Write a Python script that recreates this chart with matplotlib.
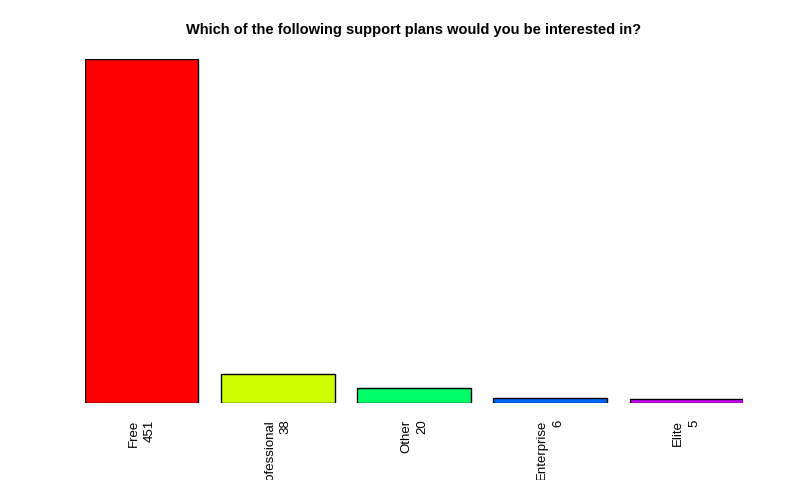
import matplotlib.pyplot as plt

plt.rcParams['font.family'] = ['Liberation Sans', 'DejaVu Sans']

plans = ['Free', 'Professional', 'Other', 'Enterprise', 'Elite']
counts = [451, 38, 20, 6, 5]
colors = ['#FF0000', '#CCFF00', '#00FF66', '#0066FF', '#CC00FF']

fig = plt.figure(figsize=(8, 4.8), dpi=100)
# axes placed in pixels: x 85..743, y 59..403 (from top)
ax = fig.add_axes([85 / 800, 77 / 480, 658 / 800, 344 / 480])

lefts = [0.2 + 1.2 * i for i in range(len(plans))]
centers = [l + 0.5 for l in lefts]
ax.bar(centers, counts, width=1.0, color=colors, edgecolor='black', linewidth=1)

ax.set_xlim(0.2, 6.0)
ax.set_ylim(0, max(counts))
ax.axis('off')

# rotated labels, cut at the bottom edge like the original (R las=2)
for c, name, n in zip(centers, plans, counts):
    ax.annotate(f'{name}\n{n}', xy=(c, 0), xycoords=('data', 'axes fraction'),
                xytext=(0, -12), textcoords='offset points', rotation=90,
                ha='center', va='top', multialignment='right', fontsize=9.5,
                linespacing=1.45, annotation_clip=False)

fig.text(414 / 800, 1 - 30 / 480, 'Which of the following support plans would you be interested in?',
         ha='center', va='center', fontsize=10.5, fontweight='bold')

fig.savefig('out.png', dpi=100)
